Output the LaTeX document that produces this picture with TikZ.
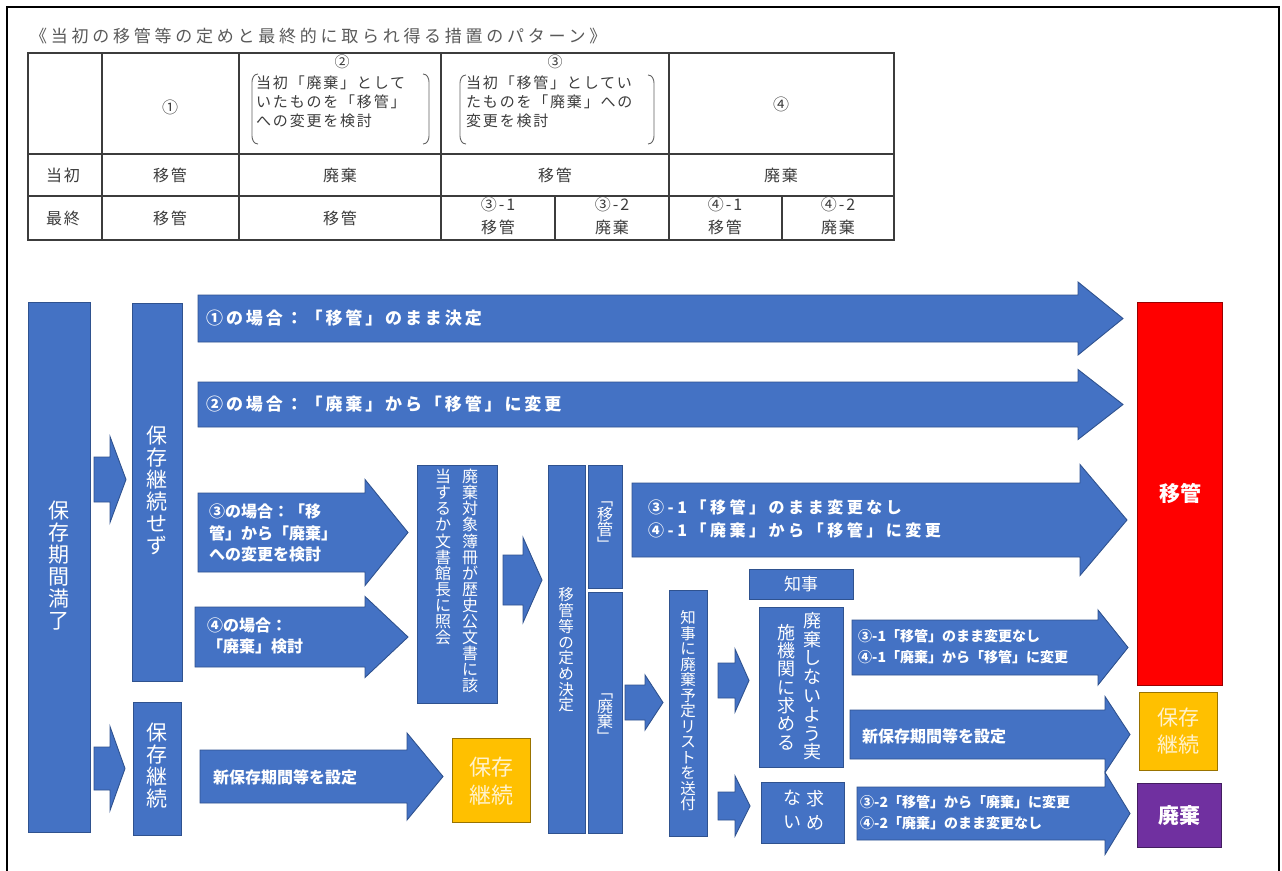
\documentclass[tikz,border=0pt]{standalone}
\usepackage{fontspec}
\newfontfamily\jp{Noto Sans CJK JP}
\newfontfamily\jps{Noto Sans CJK JP}[LetterSpace=12]
\newfontfamily\jpm{Noto Sans CJK JP}[LetterSpace=17]
\newfontfamily\jpw{Noto Sans CJK JP}[LetterSpace=22]
\newfontfamily\jpv{Noto Sans CJK JP}[RawFeature=+vert]
\definecolor{blu}{HTML}{4472C4}
\definecolor{bdr}{HTML}{2F528F}
\definecolor{tred}{HTML}{FF0000}
\definecolor{torg}{HTML}{FFC000}
\definecolor{tpur}{HTML}{7030A0}
\definecolor{tg}{HTML}{3C3C3C}
\definecolor{lyel}{HTML}{FFF2CC}
\newcommand\fsz[2]{\fontsize{#1}{#2}\selectfont}
% name, x1, head start, tip, y centre, half body, half head
\newcommand\barrow[7]{%
  \draw[arw] (#2,{#5-#6}) -- (#3,{#5-#6}) -- (#3,{#5-#7}) -- (#4,#5) -- (#3,{#5+#7}) -- (#3,{#5+#6}) -- (#2,{#5+#6}) -- cycle;
  \coordinate (#1) at (#4,#5);}
\newcommand\lbrk[3]{\draw[brk] ({#1+6},#2) to[out=180,in=90] (#1,{#2+8}) -- (#1,{#3-8}) to[out=-90,in=180] ({#1+6},#3);}
\newcommand\rbrk[3]{\draw[brk] ({#1-6},#2) to[out=0,in=90] (#1,{#2+8}) -- (#1,{#3-8}) to[out=-90,in=0] ({#1-6},#3);}
\begin{document}
\begin{tikzpicture}[x=1pt,y=-1pt,
  box/.style={draw=bdr,fill=blu,line width=1pt},
  arw/.style={draw=bdr,fill=blu,line width=0.9pt,line join=miter},
  tbl/.style={draw=tg,line width=1.3pt},
  brk/.style={draw=tg!80,line width=0.9pt},
  tt/.style={text=tg,inner sep=0,font=\jps\fsz{16}{19}},
  vt/.style={text=white,inner sep=0,align=center},
  atxt/.style={text=white,inner sep=0,anchor=west,align=left},
]
\useasboundingbox (0,0) rectangle (1282,870);
\fill[white] (0,0) rectangle (1282,870);
% frame
\draw[line width=2pt] (7,872) -- (7,7) -- (1279,7) -- (1279,872);

% ---------- table ----------
\node[text=tg!85,anchor=west,inner sep=0,font=\jpw\fsz{17}{20}] (title) at (30,36) {《当初の移管等の定めと最終的に取られ得る措置のパターン》};
\draw[tbl] (28,53) rectangle (894,240);
\draw[tbl] (28,154) -- (894,154) (28,196) -- (894,196);
\draw[tbl] (102,53) -- (102,240) (239,53) -- (239,240) (441,53) -- (441,240) (669,53) -- (669,240);
\draw[tbl] (555,196) -- (555,240) (782,196) -- (782,240);
\node[tt] (h1) at (170,107) {①};
\node[tt,font=\jp\fsz{15}{18}] (h2) at (342,62) {②};
\node[tt,font=\jp\fsz{15}{18}] (h3) at (555,62) {③};
\node[tt] (h4) at (781,104) {④};
\lbrk{252}{74}{144}\rbrk{429}{74}{144}
\lbrk{460}{75}{144}\rbrk{654}{75}{144}
\node[tt,anchor=north west,align=left,font=\jps\fsz{15}{19}] (h2t) at (256,76) {当初「廃棄」として\\いたものを「移管」\\への変更を検討};
\node[tt,anchor=north west,align=left,font=\jps\fsz{15}{19}] (h3t) at (466,76) {当初「移管」としてい\\たものを「廃棄」への\\変更を検討};
\node[tt] (r1) at (63,175) {当初};
\node[tt] (r1a) at (170,175) {移管};
\node[tt] (r1b) at (340,175) {廃棄};
\node[tt] (r1c) at (555,175) {移管};
\node[tt] (r1d) at (781,175) {廃棄};
\node[tt] (r2) at (63,218) {最終};
\node[tt] (r2a) at (170,218) {移管};
\node[tt] (r2b) at (340,218) {移管};
\node[tt] (r2c) at (498,204) {③-1};
\node[tt] (r2cc) at (498,227) {移管};
\node[tt] (r2d) at (612,204) {③-2};
\node[tt] (r2dd) at (612,227) {廃棄};
\node[tt] (r2e) at (725,204) {④-1};
\node[tt] (r2ee) at (725,227) {移管};
\node[tt] (r2f) at (838,204) {④-2};
\node[tt] (r2ff) at (838,227) {廃棄};

% ---------- boxes ----------
\draw[box] (28,302) rectangle (90,832);
\node[vt,font=\jp\fsz{21}{22}] (kikan) at (59,566) {保\\存\\期\\間\\満\\了};
\draw[box] (132,303) rectangle (182,681);
\node[vt,font=\jp\fsz{21}{22}] (sezu) at (157,490) {保\\存\\継\\続\\せ\\ず};
\draw[box] (133,702) rectangle (181,835);
\node[vt,font=\jp\fsz{21}{22}] (keizoku) at (157,766) {保\\存\\継\\続};
\draw[box] (417,465) rectangle (497,703);
\node[vt,font=\jp\fsz{16}{16.1},anchor=north] (shokaiR) at (470,469) {廃\\棄\\対\\象\\簿\\冊\\が\\歴\\史\\公\\文\\書\\に\\該};
\node[vt,font=\jp\fsz{16}{16.1},anchor=north] (shokaiL) at (443,469) {当\\す\\る\\か\\文\\書\\館\\長\\に\\照\\会};
\draw[box] (548,465) rectangle (585,833);
\node[vt,font=\jp\fsz{15.5}{15.7}] (kettei) at (566,650) {移\\管\\等\\の\\定\\め\\決\\定};
\draw[box] (588,465) rectangle (622,588);
\node[vt,font=\jpv\fsz{16}{15}] (iko) at (605,526) {「\\移\\管\\」};
\draw[box] (588,592) rectangle (622,833);
\node[vt,font=\jpv\fsz{16}{15}] (haiki) at (605,718) {「\\廃\\棄\\」};
\draw[box] (669,590) rectangle (707,836);
\node[vt,font=\jp\fsz{15.5}{15.5}] (list) at (688,711) {知\\事\\に\\廃\\棄\\予\\定\\リ\\ス\\ト\\を\\送\\付};
\draw[box] (749,569) rectangle (853,599);
\node[vt,font=\jp\fsz{17}{20}] (chiji) at (801,584) {知事};
\draw[box] (759,607) rectangle (843,767);
\node[vt,font=\jp\fsz{18}{18.8},anchor=north] (motomeR) at (812,612) {廃\\棄\\し\\な\\い\\よ\\う\\実};
\node[vt,font=\jp\fsz{18}{18.3},anchor=north] (motomeL) at (786,624) {施\\機\\関\\に\\求\\め\\る};
\draw[box] (761,782) rectangle (844,843);
\node[vt,font=\jp\fsz{18}{24},anchor=north] (nashiR) at (815,790) {求\\め};
\node[vt,font=\jp\fsz{18}{24},anchor=north] (nashiL) at (792,790) {な\\い};

% result boxes
\draw[draw=tred!60!black,fill=tred,line width=1pt] (1137,302) rectangle (1222,685);
\node[vt,font=\jp\bfseries\fsz{21}{24}] (resI) at (1180,493) {移管};
\draw[draw=torg!60!black,fill=torg,line width=1pt] (1139,692) rectangle (1217,770);
\node[vt,text=lyel,font=\jp\fsz{21}{27}] (resK) at (1178,731) {保存\\継続};
\draw[draw=tpur!60!black,fill=tpur,line width=1pt] (1137,783) rectangle (1221,847);
\node[vt,font=\jp\bfseries\fsz{21}{24}] (resH) at (1179,816) {廃棄};
\draw[draw=torg!60!black,fill=torg,line width=1pt] (452,738) rectangle (530,822);
\node[vt,text=lyel,font=\jp\fsz{22}{28}] (resK2) at (491,781) {保存\\継続};

% ---------- block arrows ----------
\barrow{a1}{198}{1078}{1123}{318.5}{23.5}{36.5}
\node[atxt,font=\jpm\bfseries\fsz{17}{20}] (a1t) at (206,318) {①の場合：「移管」のまま決定};
\barrow{a2}{198}{1078}{1123}{404.5}{22.5}{35}
\node[atxt,font=\jpm\bfseries\fsz{17}{20}] (a2t) at (206,404) {②の場合：「廃棄」から「移管」に変更};
\barrow{s1}{94}{110}{126}{479.5}{22.5}{43}
\barrow{s2}{94}{110}{125}{768.5}{21.5}{42}
\barrow{a3}{198}{365}{408}{532.5}{39.5}{53}
\node[atxt,font=\jp\bfseries\fsz{16}{21.5}] (a3t) at (209,533) {③の場合：「移\\管」から「廃棄」\\への変更を検討};
\barrow{a4}{195}{365}{408}{637}{30}{40.5}
\node[atxt,font=\jp\bfseries\fsz{16}{21}] (a4t) at (207,636) {④の場合：\\「廃棄」検討};
\barrow{a5}{200}{407}{443}{776.5}{26.5}{43.5}
\node[atxt,font=\jp\bfseries\fsz{16}{20}] (a5t) at (213,777) {新保存期間等を設定};
\barrow{s3}{503}{523}{542}{580}{25}{42.5}
\barrow{s4}{625}{645}{663}{702.5}{17.5}{27.5}
\barrow{s5}{718}{735}{749}{680.5}{17.5}{31.5}
\barrow{s6}{718}{735}{750}{806}{14}{30}
\barrow{b1}{632}{1080}{1127}{520}{37}{55.5}
\node[atxt,font=\jpw\bfseries\fsz{16}{23}] (b1t) at (648,519) {③-1「移管」のまま変更なし\\④-1「廃棄」から「移管」に変更};
\barrow{b2}{852}{1098}{1128}{647.5}{27.5}{37.5}
\node[atxt,font=\jp\bfseries\fsz{14}{21}] (b2t) at (858,647) {③-1「移管」のまま変更なし\\④-1「廃棄」から「移管」に変更};
\barrow{b3}{850}{1105}{1130}{734.5}{24.5}{38}
\node[atxt,font=\jp\bfseries\fsz{16}{20}] (b3t) at (862,736) {新保存期間等を設定};
\barrow{b4}{857}{1105}{1130}{813.5}{26.5}{41}
\node[atxt,font=\jp\bfseries\fsz{14}{21}] (b4t) at (860,813) {③-2「移管」から「廃棄」に変更\\④-2「廃棄」のまま変更なし};
\end{tikzpicture}
\end{document}
